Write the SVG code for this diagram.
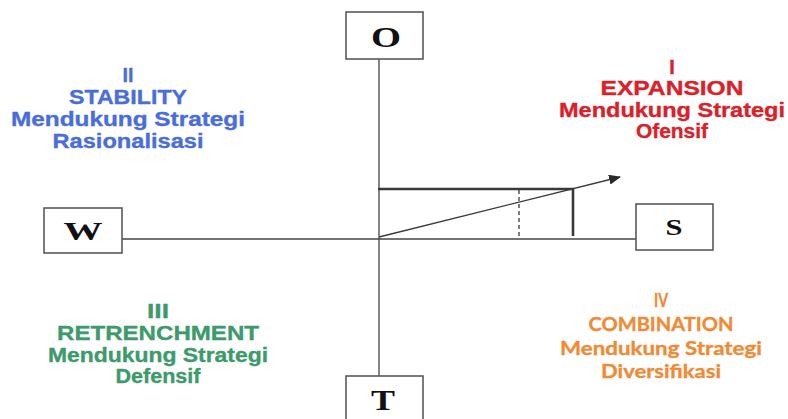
<svg xmlns="http://www.w3.org/2000/svg" width="788" height="419" viewBox="0 0 788 419">
  <style>
    .box { fill: #ffffff; stroke: #5a5a5a; stroke-width: 1.6; }
    .letter { font-family: "Liberation Serif", "Times New Roman", serif; font-weight: bold; fill: #111111; text-anchor: middle; }
    .axis { stroke: #444444; stroke-width: 1.3; fill: none; }
    .bar { stroke: #3a3a3a; stroke-width: 2.6; fill: none; }
    .dash { stroke: #3a3a3a; stroke-width: 1.3; stroke-dasharray: 4 3; fill: none; }
    .vec { stroke: #3a3a3a; stroke-width: 1.3; fill: none; }
    .q { font-family: "Liberation Sans", Arial, sans-serif; font-weight: bold; font-size: 20px; text-anchor: middle; stroke-width: 0.35; }
    .q4 { font-family: Lato, "Open Sans", sans-serif; font-weight: bold; font-size: 19px; text-anchor: middle; stroke-width: 0.35; }
    .blue { fill: #4a6ddc; stroke: #4a6ddc; }
    .red { fill: #d9212a; stroke: #d9212a; }
    .green { fill: #3d9a6c; stroke: #3d9a6c; }
    .orange { fill: #ef8a35; stroke: #ef8a35; }
  </style>
  <defs>
    <marker id="arrow" viewBox="0 0 12 10" refX="11" refY="5" markerWidth="12" markerHeight="10" markerUnits="userSpaceOnUse" orient="auto">
      <path d="M0,0 L12,5 L0,10 Z" fill="#2a2a2a"/>
    </marker>
  </defs>

  <rect width="788" height="419" fill="#ffffff"/>

  <!-- axes and the position vector -->
  <g id="connectors">
    <line class="axis" x1="379" y1="59" x2="379" y2="376"/>
    <line class="axis" x1="122" y1="239" x2="636" y2="239"/>
    <line class="bar" x1="378" y1="189" x2="574" y2="189"/>
    <line class="bar" x1="573" y1="189" x2="573" y2="236"/>
    <line class="dash" x1="519" y1="190" x2="519" y2="239"/>
    <line class="vec" x1="379" y1="237" x2="620" y2="177" marker-end="url(#arrow)"/>
  </g>

  <g id="node-O">
    <rect class="box" x="346" y="12" width="77" height="47"/>
    <text class="letter" x="386" y="47" font-size="30" textLength="30" lengthAdjust="spacingAndGlyphs">O</text>
  </g>
  <g id="node-W">
    <rect class="box" x="44" y="208" width="78" height="45"/>
    <text class="letter" x="83" y="240" font-size="26" textLength="39" lengthAdjust="spacingAndGlyphs">W</text>
  </g>
  <g id="node-S">
    <rect class="box" x="636" y="204" width="77" height="46"/>
    <text class="letter" x="674" y="235" font-size="23" textLength="17" lengthAdjust="spacingAndGlyphs">S</text>
  </g>
  <g id="node-T">
    <rect class="box" x="346" y="376" width="77" height="50"/>
    <text class="letter" x="383" y="410" font-size="30" textLength="24" lengthAdjust="spacingAndGlyphs">T</text>
  </g>

  <g id="quadrant-I">
    <text class="q red" x="672" y="74">I</text>
    <text class="q red" x="672" y="95" textLength="143" lengthAdjust="spacingAndGlyphs">EXPANSION</text>
    <text class="q red" x="672" y="117" textLength="226" lengthAdjust="spacingAndGlyphs">Mendukung Strategi</text>
    <text class="q red" x="672" y="138" textLength="72" lengthAdjust="spacingAndGlyphs">Ofensif</text>
  </g>
  <g id="quadrant-II">
    <text class="q blue" x="128" y="82" textLength="11" lengthAdjust="spacingAndGlyphs">II</text>
    <text class="q blue" x="128" y="104" textLength="118" lengthAdjust="spacingAndGlyphs">STABILITY</text>
    <text class="q blue" x="128" y="126" textLength="234" lengthAdjust="spacingAndGlyphs">Mendukung Strategi</text>
    <text class="q blue" x="128" y="148" textLength="151" lengthAdjust="spacingAndGlyphs">Rasionalisasi</text>
  </g>
  <g id="quadrant-III">
    <text class="q green" x="158" y="318" textLength="22" lengthAdjust="spacingAndGlyphs">III</text>
    <text class="q green" x="158" y="340" textLength="202" lengthAdjust="spacingAndGlyphs">RETRENCHMENT</text>
    <text class="q green" x="158" y="362" textLength="220" lengthAdjust="spacingAndGlyphs">Mendukung Strategi</text>
    <text class="q green" x="158" y="383" textLength="85" lengthAdjust="spacingAndGlyphs">Defensif</text>
  </g>
  <g id="quadrant-IV">
    <text class="q4 orange" x="661" y="307" textLength="14" lengthAdjust="spacingAndGlyphs">IV</text>
    <text class="q4 orange" x="661" y="331" textLength="145" lengthAdjust="spacingAndGlyphs">COMBINATION</text>
    <text class="q4 orange" x="661" y="355" textLength="202" lengthAdjust="spacingAndGlyphs">Mendukung Strategi</text>
    <text class="q4 orange" x="661" y="378" textLength="120" lengthAdjust="spacingAndGlyphs">Diversifikasi</text>
  </g>
</svg>
